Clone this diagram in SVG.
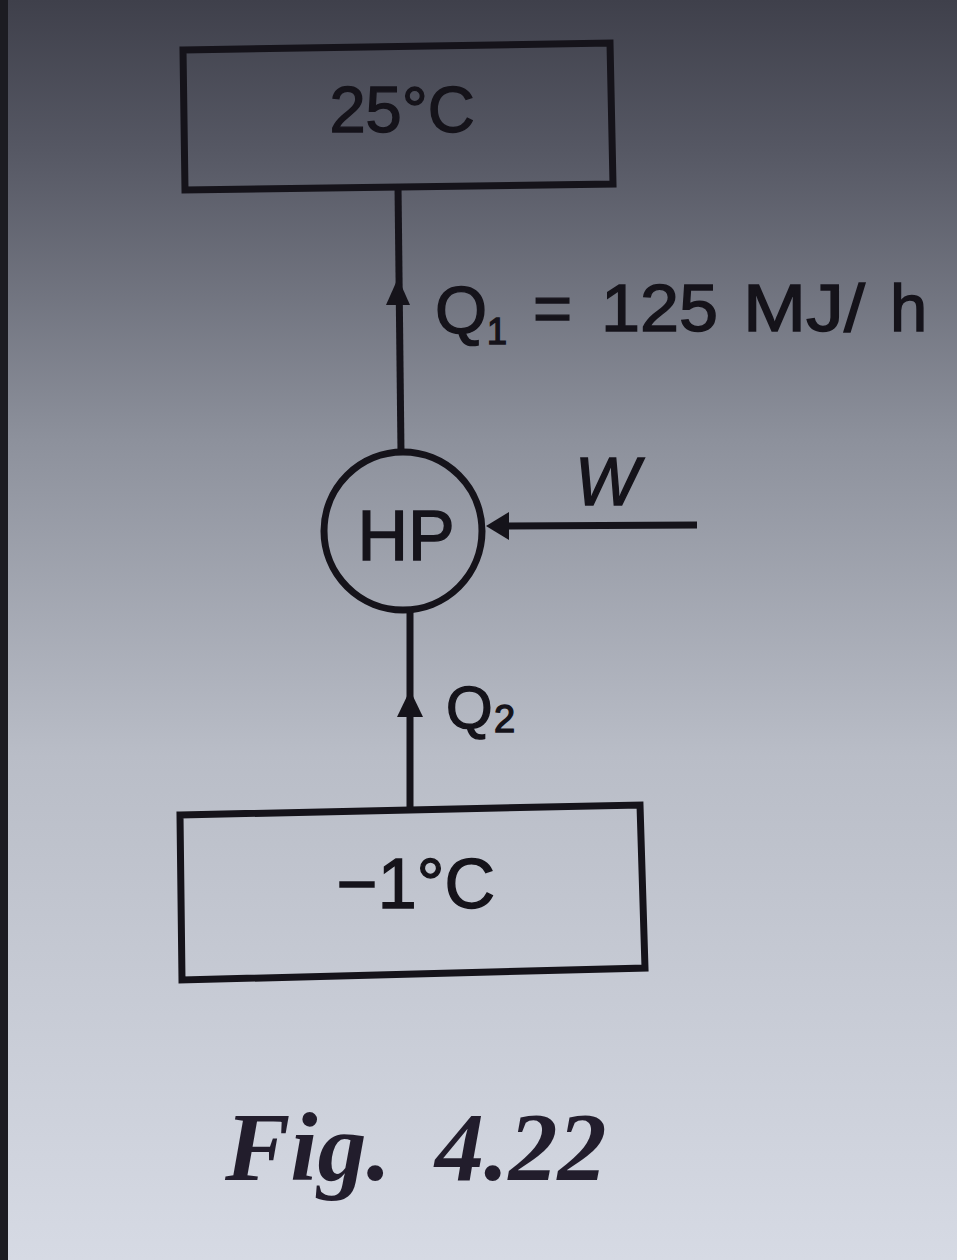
<svg xmlns="http://www.w3.org/2000/svg" width="957" height="1260" viewBox="0 0 957 1260">
<style>
.ln{fill:none;stroke:#15131a;stroke-width:7;stroke-linejoin:miter}
.ah{fill:#15131a}
.t{font-family:"Liberation Sans",Arial,sans-serif;fill:#15131a;stroke:#15131a;stroke-width:1.4}
.cap{font-family:"Liberation Serif","Times New Roman",serif;font-weight:bold;font-style:italic;fill:#221d2c}
</style>
<defs>
<linearGradient id="bg" x1="0" y1="0" x2="0" y2="1">
<stop offset="0" stop-color="#3f404b"/>
<stop offset="0.12" stop-color="#565864"/>
<stop offset="0.35" stop-color="#8d919c"/>
<stop offset="0.6" stop-color="#b9bdc7"/>
<stop offset="1" stop-color="#d6dae4"/>
</linearGradient>
</defs>
<rect x="0" y="0" width="957" height="1260" fill="url(#bg)"/>
<rect x="0" y="0" width="8" height="1260" fill="#1c1c22"/>

<g id="connectors">
<line class="ln" x1="398" y1="186" x2="401" y2="452"/>
<polygon class="ah" points="398,278 386,305 410,305"/>
<line class="ln" x1="410" y1="608" x2="410" y2="808"/>
<polygon class="ah" points="410,690 397,717 423,717"/>
<line class="ln" x1="697" y1="525" x2="505" y2="526"/>
<polygon class="ah" points="486,526 509,512 509,540"/>
</g>

<g id="hot">
<polygon class="ln" points="183,50 610,43 613,184 185,190"/>
<text class="t" x="402" y="132" font-size="65" text-anchor="middle">25°C</text>
</g>

<g id="hp">
<circle class="ln" cx="403" cy="531" r="79"/>
<text class="t" x="406" y="560" font-size="70" text-anchor="middle">HP</text>
</g>

<g id="cold">
<polygon class="ln" points="180,815 640,805 645,968 182,980"/>
<text class="t" x="416" y="908" font-size="70" text-anchor="middle">−1°C</text>
</g>

<g id="labels">
<text class="t" x="435" y="333" font-size="67">Q</text>
<text class="t" x="487" y="344" font-size="36">1</text>
<text class="t" x="533" y="331" font-size="67">=</text>
<text class="t" x="601" y="331" font-size="67" textLength="117" lengthAdjust="spacingAndGlyphs">125</text>
<text class="t" x="743" y="331" font-size="67" textLength="122" lengthAdjust="spacingAndGlyphs">MJ/</text>
<text class="t" x="890" y="331" font-size="67">h</text>
<text class="t" x="575" y="505" font-size="68" font-style="italic">W</text>
<text class="t" x="446" y="728" font-size="60">Q</text>
<text class="t" x="494" y="732" font-size="38">2</text>
</g>

<g id="caption">
<text class="cap" x="225" y="1180" font-size="98">Fig.</text>
<text class="cap" x="435" y="1180" font-size="98">4.22</text>
</g>
</svg>
